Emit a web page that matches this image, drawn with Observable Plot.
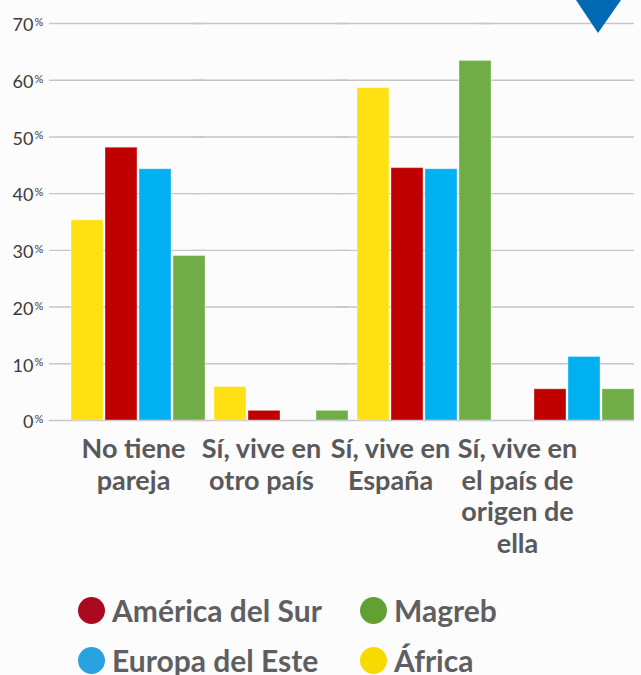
<!DOCTYPE html>
<html>
<head>
<meta charset="utf-8">
<script src="https://cdn.jsdelivr.net/npm/d3@7"></script>
<script src="https://cdn.jsdelivr.net/npm/@observablehq/plot@0.6"></script>
<style>
  html, body { margin: 0; padding: 0; background: #fcfcfc; }
  #wrap { position: relative; width: 641px; height: 675px; overflow: hidden; font-family: Lato, "Open Sans", sans-serif; }
  #tri { position: absolute; left: 0; top: 0; }
  #legend { position: absolute; left: 0; top: 560px; width: 641px; height: 115px;
            display: grid; grid-template-columns: 282px 282px; grid-auto-rows: 50px;
            padding: 25px 0 0 78px; box-sizing: border-box; }
  .item { display: flex; align-items: center; height: 50px; }
  .dot { width: 27px; height: 27px; border-radius: 50%; margin-right: 7px; flex: none; }
  .lab { font-size: 30px; font-weight: 700; color: #5f5f61; line-height: 1; white-space: nowrap; }
</style>
</head>
<body>
<div id="wrap">
  <div id="chart"></div>
  <svg id="tri" width="641" height="40"><polygon points="576,0 621,0 598,33" fill="#0069b4"/></svg>
  <div id="legend"></div>
</div>
<script>
// ---- data ----
const categories = ["No tiene pareja", "Sí, vive en otro país", "Sí, vive en España", "Sí, vive en el país de origen de ella"];
const categoryLabels = ["No tiene\npareja", "Sí, vive en\notro país", "Sí, vive en\nEspaña", "Sí, vive en\nel país de\norigen de\nella"];
const series = ["África", "América del Sur", "Europa del Este", "Magreb"];
const africa     = [35.3, 5.9, 58.6, 0];
const americaSur = [48.1, 1.7, 44.5, 5.5];
const europaEste = [44.3, 0,   44.3, 11.2];
const magreb     = [29.0, 1.7, 63.4, 5.5];
const yTicks = [0, 10, 20, 30, 40, 50, 60, 70];
const legendOrder = ["América del Sur", "Magreb", "Europa del Este", "África"];

// ---- styles ----
const barColors = ["#ffe113", "#c00000", "#00b0f0", "#70ad47"];
const legendColors = {"América del Sur": "#ab0a1e", "Magreb": "#62a033", "Europa del Este": "#29a2e0", "África": "#f7da00"};
const labelShift = [-5, -20, -34, -50];

const valuesBySeries = [africa, americaSur, europaEste, magreb];
const table = [];
categories.forEach((c, i) => series.forEach((s, j) => {
  const v = valuesBySeries[j][i];
  if (v > 0) table.push({category: c, series: s, value: v});
}));

const labelMarks = categories.map((c, i) =>
  Plot.text([c], {
    fx: d => d, text: () => categoryLabels[i],
    frameAnchor: "bottom", lineAnchor: "top", dy: 15, dx: labelShift[i],
    fontSize: 27, fontWeight: 700, fill: "#58595b", lineHeight: 1.17
  })
);

const chart = Plot.plot({
  width: 641, height: 560,
  marginTop: 23, marginBottom: 140, marginLeft: 48, marginRight: 7,
  style: {background: "transparent", fontFamily: "Lato, 'Open Sans', sans-serif", overflow: "visible"},
  fx: {domain: categories, paddingInner: 0.065, paddingOuter: 0.077, align: 1, axis: null, label: null},
  x: {domain: series, paddingInner: 0.06, paddingOuter: 0, axis: null},
  y: {domain: [0, 70], axis: null},
  color: {domain: series, range: barColors},
  marks: [
    Plot.ruleY(yTicks, {y: d => d, stroke: "#c6c6c6", strokeWidth: 1.4, insetLeft: -22, insetRight: 0}),
    Plot.barY(table, {fx: "category", x: "series", y: "value", fill: "series",
                      stroke: "#ffffff", strokeOpacity: 0.35, strokeWidth: 1}),
    Plot.text(yTicks, {fx: () => categories[0], y: d => d, text: d => String(d), frameAnchor: "left", textAnchor: "end",
                       dx: -38, dy: 2, fontSize: 18, fill: "#3b3b3b"}),
    Plot.text(yTicks, {fx: () => categories[0], y: d => d, text: () => "%", frameAnchor: "left", textAnchor: "start",
                       dx: -37, dy: -1, fontSize: 11, fill: "#3b3b3b"}),
    ...labelMarks
  ]
});
document.getElementById("chart").appendChild(chart);

const legend = d3.select("#legend");
legendOrder.forEach(s => {
  const it = legend.append("div").attr("class", "item");
  it.append("div").attr("class", "dot").style("background", legendColors[s]);
  it.append("div").attr("class", "lab").text(s);
});
</script>
</body>
</html>
